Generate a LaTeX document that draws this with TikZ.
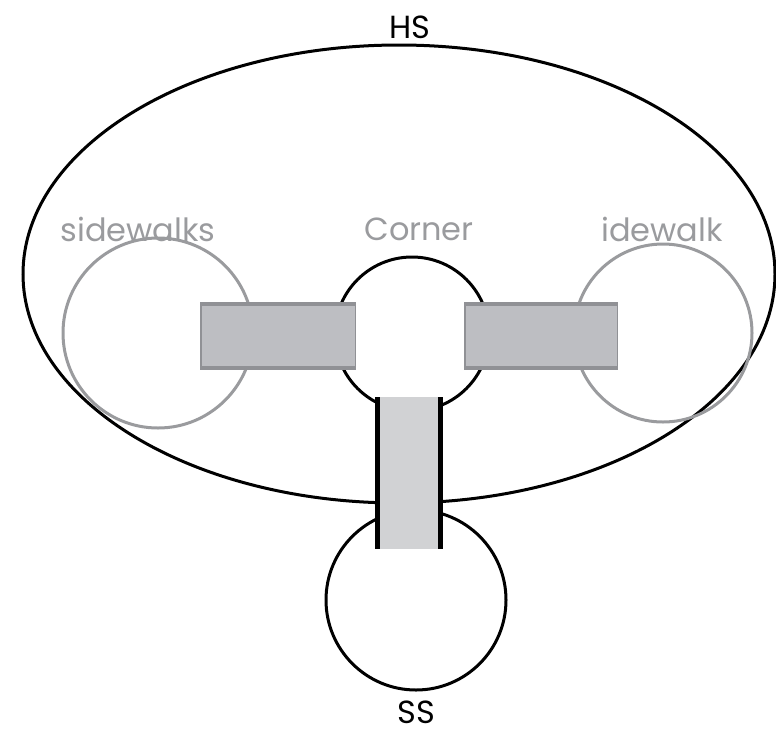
\documentclass[tikz,border=0pt]{standalone}
\usepackage{fontspec}
\setmainfont{Poppins}
\definecolor{cgray}{HTML}{9A9B9E}
\definecolor{rfill}{HTML}{BDBEC2}
\definecolor{redge}{HTML}{909195}
\definecolor{vfill}{HTML}{D1D2D4}
\begin{document}
\begin{tikzpicture}[x=1pt,y=-1pt,
  lbl/.style={font=\fontsize{32}{35}\selectfont\mdseries,inner sep=0pt},
  glbl/.style={lbl,text=cgray},
  blk/.style={draw=black,line width=3pt},
  gry/.style={draw=cgray,line width=3pt}]
\useasboundingbox (0,0) rectangle (776,737);
\draw[blk] (399,274) ellipse [x radius=376, y radius=229];
\draw[gry] (158,333) circle [radius=95];
\draw[gry] (663,333) circle [radius=89];
\draw[blk] (412,334) circle [radius=77];
\draw[blk] (416,600) circle [radius=90];
% horizontal bars
\fill[rfill] (200,302) rectangle (356,370);
\fill[redge] (200,302) rectangle (356,306);
\fill[redge] (200,366) rectangle (356,370);
\fill[redge] (200,302) rectangle (201.5,370);
\fill[redge] (354.5,302) rectangle (356,370);
\fill[rfill] (464,302) rectangle (618,370);
\fill[redge] (464,302) rectangle (618,306);
\fill[redge] (464,366) rectangle (618,370);
\fill[redge] (464,302) rectangle (465.5,370);
\fill[redge] (616.5,302) rectangle (618,370);
% vertical bar
\fill[vfill] (375,397) rectangle (443,549);
\fill[black] (375,397) rectangle (380,549);
\fill[black] (438,397) rectangle (443,549);
% labels
\node[lbl] (hs) at (410,27) {HS};
\node[lbl] (ss) at (416,712) {SS};
\node[glbl] (sw) at (138,229) {sidewalks};
\node[glbl] (co) at (419,229) {Corner};
\node[glbl] (iw) at (662,229) {idewalk};
\end{tikzpicture}
\end{document}
